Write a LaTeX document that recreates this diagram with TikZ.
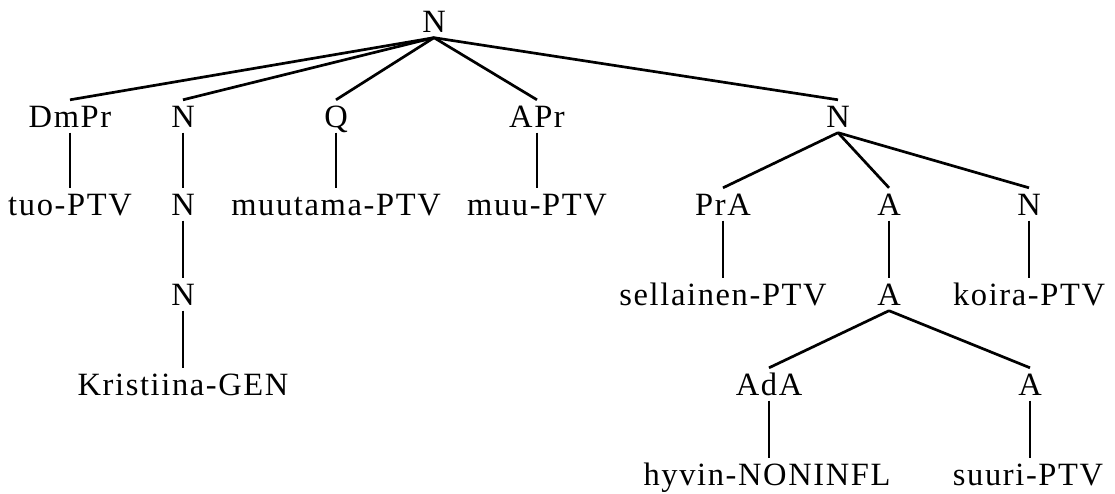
\documentclass[tikz,border=0pt]{standalone}
\usepackage{fontspec}
\setmainfont{Liberation Serif}[LetterSpace=5]
\begin{document}
\begin{tikzpicture}
[x=1pt,y=-1pt,
 lab/.style={anchor=base,inner xsep=0pt,inner ysep=5.5pt,text height=21.5pt,text depth=0pt,font=\fontsize{32.5}{38}\selectfont},
 edge/.style={line width=2.7pt}]
\useasboundingbox (0,0) rectangle (1115,493);

\node[lab] (n0) at (434,32) {N};

\node[lab] (dmpr) at (70,127) {DmPr};
\node[lab] (n1) at (183,127) {N};
\node[lab] (q) at (336,127) {Q};
\node[lab] (apr) at (537,127) {APr};
\node[lab] (n2) at (838,127) {N};

\node[lab] (tuo) at (70,215) {tuo-PTV};
\node[lab] (n11) at (183,215) {N};
\node[lab] (muutama) at (336,215) {muutama-PTV};
\node[lab] (muu) at (537,215) {muu-PTV};
\node[lab] (pra) at (723,215) {PrA};
\node[lab] (a1) at (889,215) {A};
\node[lab] (n3) at (1029,215) {N};

\node[lab] (n12) at (183,305) {N};
\node[lab] (sellainen) at (723,305) {sellainen-PTV};
\node[lab] (a2) at (889,305) {A};
\node[lab] (koira) at (1029,305) {koira-PTV};

\node[lab] (kristiina) at (183,395) {Kristiina-GEN};
\node[lab] (ada) at (769,395) {AdA};
\node[lab] (a3) at (1030,395) {A};

\node[lab] (hyvin) at (767,485) {hyvin-NONINFL};
\node[lab] (suuri) at (1028,485) {suuri-PTV};

\foreach \c in {dmpr,n1,q,apr,n2}{
\draw[edge] (n0.south) -- (\c.north);
}
\foreach \c in {pra,a1,n3}{
\draw[edge] (n2.south) -- (\c.north);
}
\foreach \c in {ada,a3}{
\draw[edge] (a2.south) -- (\c.north);
}

\draw[edge] (dmpr.south) -- (dmpr.south |- tuo.north);
\draw[edge] (n1) -- (n11);
\draw[edge] (n11) -- (n12);
\draw[edge] (n12.south) -- (n12.south |- kristiina.north);
\draw[edge] (q.south) -- (q.south |- muutama.north);
\draw[edge] (apr.south) -- (apr.south |- muu.north);
\draw[edge] (pra.south) -- (pra.south |- sellainen.north);
\draw[edge] (a1) -- (a2);
\draw[edge] (n3.south) -- (n3.south |- koira.north);
\draw[edge] (ada.south) -- (ada.south |- hyvin.north);
\draw[edge] (a3.south) -- (a3.south |- suuri.north);
\end{tikzpicture}
\end{document}
